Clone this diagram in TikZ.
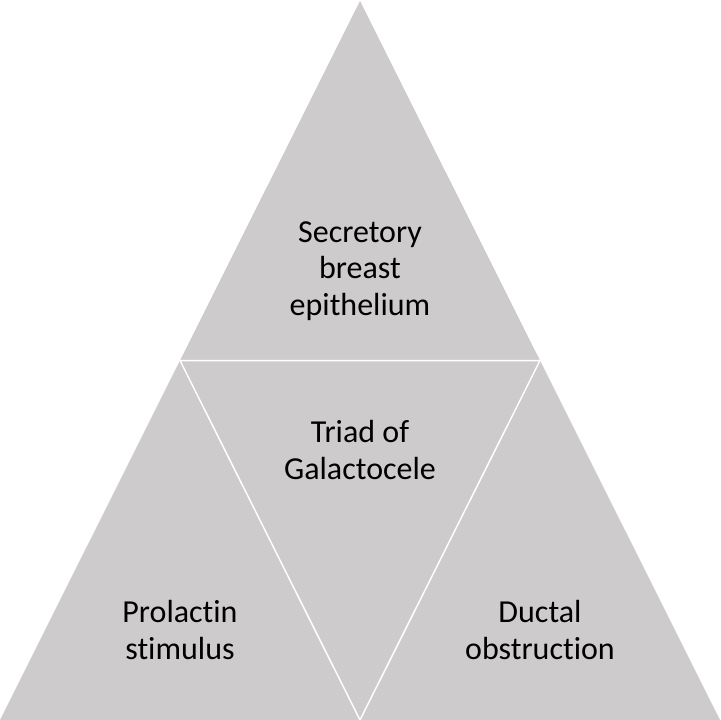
\documentclass[tikz,border=0pt]{standalone}
\usepackage{fontspec}
\setmainfont{Carlito}[Ligatures=NoCommon]
\definecolor{tri}{RGB}{205,203,204}
\begin{document}
\begin{tikzpicture}[x=1bp,y=-1bp,
  divider/.style={draw=white,line width=1.5bp,line join=miter},
  lbl/.style={align=center,inner sep=0pt,font=\fontsize{32bp}{36.5bp}\selectfont,text=black}]
\useasboundingbox (0,0) rectangle (720,720);
\coordinate (A) at (360,1);
\coordinate (L) at (0,720);
\coordinate (R) at (720,720);
\coordinate (ML) at (180,360.5);
\coordinate (MR) at (540,360.5);
\coordinate (MB) at (360,720);
\fill[tri] (A) -- (L) -- (R) -- cycle;
\draw[divider] (ML) -- (MR) -- (MB) -- cycle;
\node[lbl] (top) at (360,271) {Secretory\\breast\\epithelium};
\node[lbl] (mid) at (360,450) {Triad of\\Galactocele};
\node[lbl] (left) at (180,630) {Prolactin\\stimulus};
\node[lbl] (right) at (540,630) {Ductal\\obstruction};
\end{tikzpicture}
\end{document}
